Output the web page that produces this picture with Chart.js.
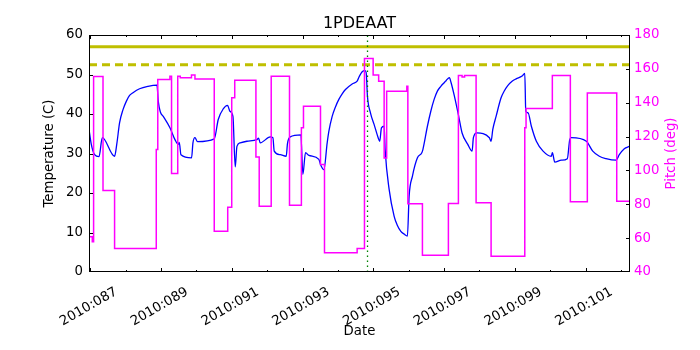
<!DOCTYPE html>
<html>
<head>
<meta charset="utf-8">
<script src="https://cdn.jsdelivr.net/npm/chart.js@4.4.1/dist/chart.umd.min.js"></script>
<style>
  html, body { margin: 0; padding: 0; background: #fff; }
  #wrap { width: 700px; height: 350px; }
</style>
</head>
<body>
<div id="wrap"><canvas id="chart" width="700" height="350"></canvas></div>
<script>
// day of year 2010 (fractional)
const xMin = 86.963;
const xMax = 102.254;
const xTickDays = [87, 89, 91, 93, 95, 97, 99, 101];
const xMinorDays = [88, 90, 92, 94, 96, 98, 100, 102];

// 1PDEAAT temperature (C)
const tempDays = [86.963, 87.028, 87.121, 87.246, 87.339, 87.686, 87.75, 87.828, 87.924, 88.017, 88.11, 88.206,
  88.393, 88.630, 88.884, 88.921, 88.98, 89.062, 89.251, 89.393, 89.486, 89.514, 89.562, 89.862, 89.901, 89.958,
  90.031, 90.503, 90.616, 90.757, 90.879, 90.946, 91.031, 91.096, 91.144, 91.237, 91.427, 91.709, 91.754, 91.802,
  92.085, 92.161, 92.198, 92.367, 92.537, 92.573, 92.650, 92.952, 93.008, 93.082, 93.178, 93.460, 93.506, 93.602,
  93.695, 93.742, 93.836, 93.929, 94.025, 94.119, 94.212, 94.401, 94.542, 94.607, 94.684, 94.760, 94.797, 94.833,
  94.918, 95.023, 95.136, 95.18, 95.229, 95.305, 95.333, 95.446, 95.588, 95.68, 95.777, 95.87, 95.963, 96.011,
  96.105, 96.246, 96.370, 96.40, 96.528, 96.624, 96.718, 96.81, 96.907, 97.02, 97.06, 97.15, 97.198, 97.291,
  97.415, 97.508, 97.669, 97.791, 97.828, 97.924, 98.280, 98.328, 98.376, 98.469, 98.610, 98.704, 98.799, 98.921,
  99.034, 99.203, 99.280, 99.308, 99.373, 99.466, 99.607, 99.797, 100.031, 100.06, 100.127, 100.314, 100.483,
  100.551, 100.596, 101.020, 101.201, 101.387, 101.576, 101.859, 101.952, 102.093, 102.234];
const tempValues = [36.1, 32.3, 29.7, 29.2, 34.0, 29.3, 32.5, 37.8, 41.1, 43.2, 44.7, 45.4,
  46.4, 47.0, 47.3, 43.2, 40.5, 39.4, 36.5, 33.5, 32.3, 32.8, 29.7, 28.9, 32.7, 34.0,
  33.0, 33.7, 38.6, 41.3, 42.2, 40.7, 39.4, 26.6, 31.8, 32.7, 33.1, 33.5, 33.9, 32.7,
  34.2, 34.0, 30.6, 29.7, 29.3, 32.5, 34.2, 34.7, 24.7, 30.2, 29.5, 28.5, 27.2, 25.9,
  32.7, 35.6, 39.4, 41.8, 43.7, 45.1, 46.2, 47.6, 48.3, 49.6, 50.7, 51.0, 50.5, 44.5,
  40.3, 37.3, 34.0, 33.1, 36.5, 36.9, 31.0, 20.9, 14.1, 11.8, 10.3, 9.6, 9.1, 19.2,
  24.3, 28.9, 30.2, 31.0, 36.9, 40.7, 43.7, 45.8, 47.0, 48.1, 48.5, 49.2, 47.9, 44.5,
  39.3, 35.2, 32.3, 30.6, 34.0, 35.2, 34.0, 33.1, 36.1, 39.4, 44.1, 45.9, 47.2, 48.3,
  48.9, 49.6, 50.3, 40.7, 40.3, 36.9, 33.1, 30.6, 29.3, 30.2, 27.8, 28.3, 28.7,
  33.5, 34.0, 33.1, 30.6, 29.3, 28.7, 28.3, 29.7, 31.2, 31.8];

// pitch (deg), value holds from each day until the next one
const pitchDays = [86.963, 87.056, 87.093, 87.359, 87.686, 88.864, 88.907, 89.25, 89.296, 89.471, 89.542, 89.859,
  89.958, 90.503, 90.884, 90.997, 91.082, 91.681, 91.774, 92.113, 92.630, 92.966, 93.025, 93.506, 93.619, 94.542,
  94.749, 94.994, 95.150, 95.305, 95.376, 95.946, 95.975, 96.387, 97.121, 97.404, 97.508, 97.579, 97.904, 98.328,
  99.280, 99.316, 100.059, 100.568, 101.048, 101.879, 102.254];
const pitchValues = [60.8, 57.8, 155.5, 88.1, 53.9, 112.4, 153.7, 155.6, 98.2, 155.6, 154.7, 156.3,
  154.0, 64.1, 78.3, 142.9, 153.3, 108.0, 78.9, 155.6, 79.5, 125.2, 137.9, 103.5, 51.3, 53.9,
  166.1, 156.3, 152.7, 107.4, 146.8, 149.7, 80.3, 49.9, 80.5, 156.1, 155.2, 156.1, 80.9, 49.3,
  125.2, 136.6, 156.1, 81.5, 145.8, 81.8, 81.8];

const yellowLimit = 57.0;
const planningLimit = 52.5;
const markerDay = 94.835;

const FONT = "'DejaVu Sans', sans-serif";
const MAGENTA = "#ff00ff";

const pts = (xs, ys) => xs.map((x, i) => ({ x: x, y: ys[i] }));

// frame, inward ticks and the right axis label
const framePlugin = {
  id: "frame",
  afterDraw(chart) {
    const { ctx, chartArea: a, scales } = chart;
    ctx.save();
    ctx.strokeStyle = "#000";
    ctx.lineWidth = 1;
    ctx.strokeRect(a.left + 0.5, a.top + 0.5, a.width - 1, a.height - 1);
    ctx.beginPath();
    xTickDays.concat(xMinorDays).forEach(d => {
      if (d < xMin || d > xMax) return;
      const len = xTickDays.includes(d) ? 4 : 2;
      const x = Math.round(scales.x.getPixelForValue(d)) + 0.5;
      ctx.moveTo(x, a.bottom); ctx.lineTo(x, a.bottom - len);
      ctx.moveTo(x, a.top); ctx.lineTo(x, a.top + len);
    });
    for (let v = 10; v < 60; v += 10) {
      const y = Math.round(scales.y.getPixelForValue(v)) + 0.5;
      ctx.moveTo(a.left, y); ctx.lineTo(a.left + 4, y);
    }
    for (let v = 60; v < 180; v += 20) {
      const y = Math.round(scales.y1.getPixelForValue(v)) + 0.5;
      ctx.moveTo(a.right, y); ctx.lineTo(a.right - 4, y);
    }
    ctx.stroke();

    ctx.translate(672, (a.top + a.bottom) / 2);
    ctx.rotate(-Math.PI / 2);
    ctx.fillStyle = MAGENTA;
    ctx.font = "13.3px " + FONT;
    ctx.textAlign = "center";
    ctx.textBaseline = "middle";
    ctx.fillText("Pitch (deg)", 0, 0);
    ctx.restore();
  }
};

Chart.defaults.font.family = FONT;
Chart.defaults.font.size = 13.3;
Chart.defaults.color = "#000";

new Chart(document.getElementById("chart"), {
  type: "line",
  data: {
    datasets: [
      {
        data: pts(pitchDays, pitchValues),
        yAxisID: "y1",
        borderColor: MAGENTA,
        borderWidth: 1.5,
        stepped: true,
        pointRadius: 0,
        fill: false
      },
      {
        data: pts([markerDay, markerDay], [0, 60]),
        yAxisID: "y",
        borderColor: "#008000",
        borderWidth: 1.3,
        borderDash: [1.5, 3.5],
        pointRadius: 0
      },
      {
        data: pts(tempDays, tempValues),
        yAxisID: "y",
        borderColor: "#0000ff",
        borderWidth: 1.3,
        pointRadius: 0,
        cubicInterpolationMode: "monotone",
        fill: false
      },
      {
        data: pts([xMin, xMax], [yellowLimit, yellowLimit]),
        yAxisID: "y",
        borderColor: "#bfbf00",
        borderWidth: 3,
        pointRadius: 0
      },
      {
        data: pts([xMin, xMax], [planningLimit, planningLimit]),
        yAxisID: "y",
        borderColor: "#bfbf00",
        borderWidth: 3,
        borderDash: [8, 5],
        pointRadius: 0
      }
    ]
  },
  options: {
    responsive: false,
    animation: false,
    layout: { padding: 0 },
    plugins: {
      legend: { display: false },
      tooltip: { enabled: false },
      title: {
        display: true,
        text: "1PDEAAT",
        fullSize: false,
        color: "#000",
        font: { size: 16, weight: "normal" },
        padding: { top: 14, bottom: 1.8 }
      }
    },
    scales: {
      x: {
        type: "linear",
        min: xMin,
        max: xMax,
        grid: { display: false, drawTicks: false },
        border: { display: false },
        afterBuildTicks: scale => { scale.ticks = xTickDays.map(v => ({ value: v })); },
        afterFit: scale => { scale.height = 78; },
        ticks: {
          autoSkip: false,
          minRotation: 30,
          maxRotation: 30,
          labelOffset: 26,
          padding: 12,
          callback: v => "2010:" + String(v).padStart(3, "0")
        },
        title: { display: true, text: "Date", padding: { top: 0, bottom: 10 } }
      },
      y: {
        position: "left",
        min: 0,
        max: 60,
        grid: { display: false, drawTicks: false },
        border: { display: false },
        afterFit: scale => { scale.width = 89; },
        ticks: { stepSize: 10, padding: 6 },
        title: { display: true, text: "Temperature (C)", padding: { top: 42 } }
      },
      y1: {
        position: "right",
        min: 40,
        max: 180,
        grid: { display: false, drawTicks: false },
        border: { display: false },
        afterFit: scale => { scale.width = 70; },
        ticks: { stepSize: 20, padding: 4, color: MAGENTA }
      }
    }
  },
  plugins: [framePlugin]
});
</script>
</body>
</html>
